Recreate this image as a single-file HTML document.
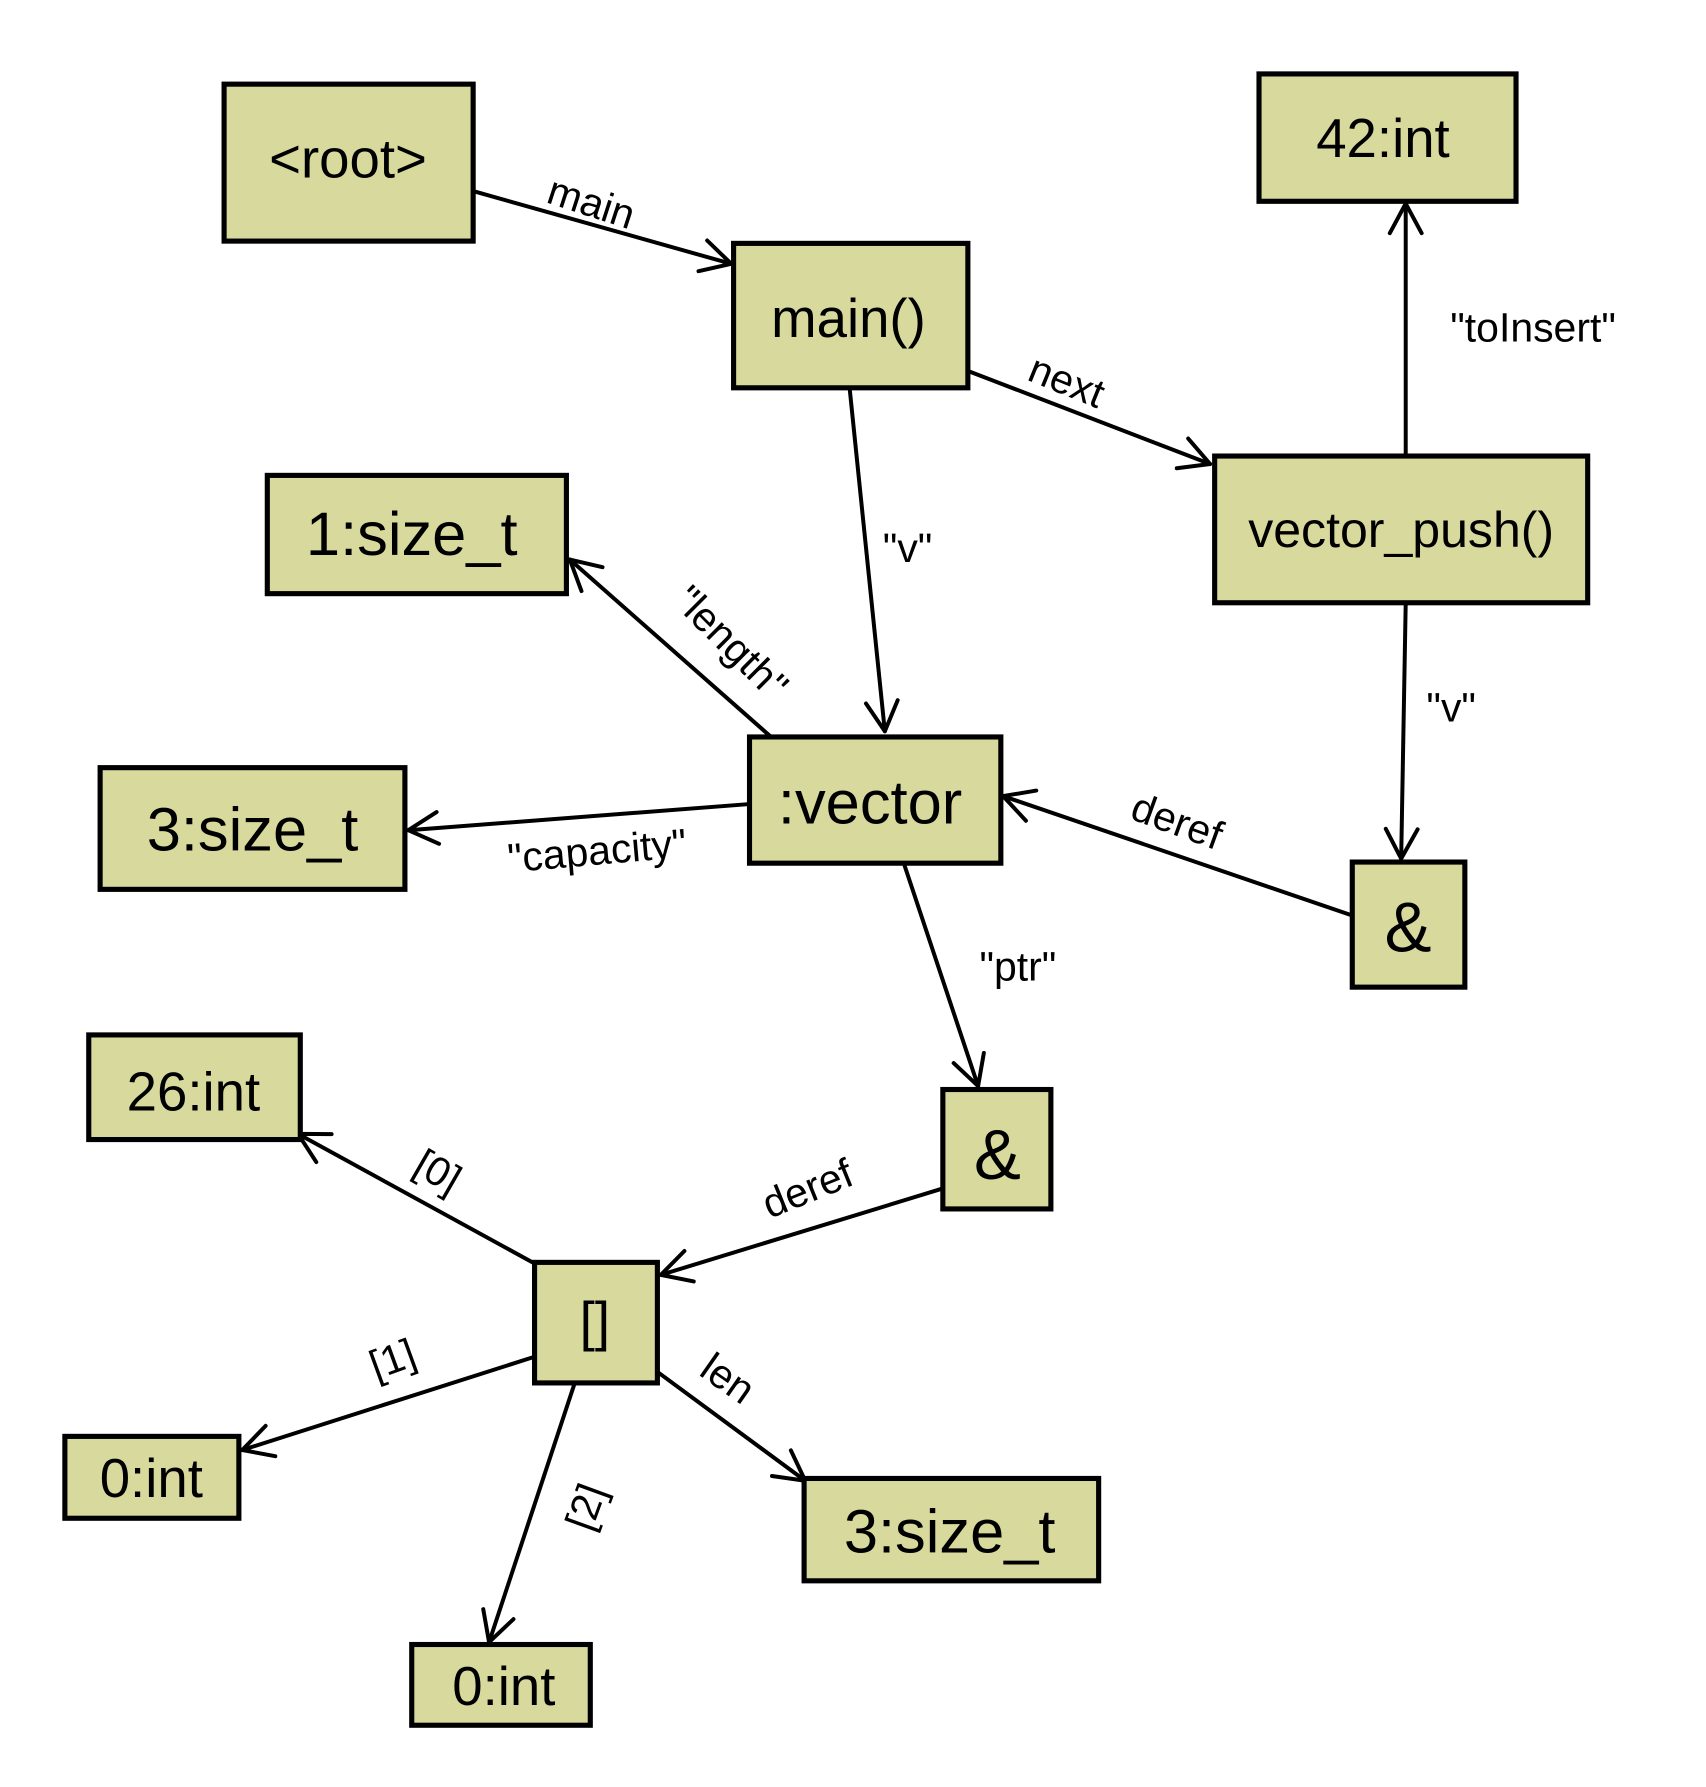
<!DOCTYPE html>
<html><head><meta charset="utf-8"><style>
html,body{margin:0;padding:0;background:#fff;}
svg{display:block;}
text{font-family:"Liberation Sans",sans-serif;fill:#000;}
.n{font-size:48px;text-anchor:middle;dominant-baseline:central;}
.l{font-size:36px;text-anchor:middle;dominant-baseline:central;}
rect{fill:#d8d99c;stroke:#000;stroke-width:4.5;}
line,polyline{stroke:#000;stroke-width:3.5;fill:none;stroke-linecap:round;stroke-linejoin:round;}
</style></head><body>
<svg width="1706" height="1787" viewBox="0 0 1500 1571.3" xmlns="http://www.w3.org/2000/svg">
<defs><marker id="a" markerWidth="34" markerHeight="34" refX="30" refY="17" orient="auto" markerUnits="userSpaceOnUse"><polyline points="4,3 30,17 4,31" style="stroke:#000;stroke-width:3.5;fill:none"/></marker></defs>
<line x1="416" y1="168" x2="643" y2="232" marker-end="url(#a)"/>
<line x1="848" y1="325" x2="1064" y2="408" marker-end="url(#a)"/>
<line x1="747" y1="341" x2="778" y2="643" marker-end="url(#a)"/>
<line x1="1236" y1="400" x2="1236" y2="179" marker-end="url(#a)"/>
<line x1="1236" y1="530" x2="1232" y2="755" marker-end="url(#a)"/>
<line x1="1189" y1="805" x2="882" y2="700" marker-end="url(#a)"/>
<line x1="678" y1="648" x2="501" y2="492" marker-end="url(#a)"/>
<line x1="659" y1="707" x2="359" y2="730" marker-end="url(#a)"/>
<line x1="795" y1="760" x2="860" y2="955" marker-end="url(#a)"/>
<line x1="829" y1="1045" x2="581" y2="1121" marker-end="url(#a)"/>
<line x1="470" y1="1111" x2="262" y2="997" marker-end="url(#a)"/>
<line x1="470" y1="1193" x2="213" y2="1275" marker-end="url(#a)"/>
<line x1="505" y1="1217" x2="430" y2="1444" marker-end="url(#a)"/>
<line x1="579" y1="1207" x2="708" y2="1302" marker-end="url(#a)"/>
<rect x="197" y="74" width="219" height="138"/><text class="n" x="306" y="140">&lt;root&gt;</text>
<rect x="645" y="214" width="206" height="127"/><text class="n" x="746" y="280">main()</text>
<rect x="1107" y="65" width="226" height="112"/><text class="n" x="1216" y="122">42:int</text>
<rect x="1068" y="401" width="328" height="129"/><text class="n" x="1232" y="466" style="font-size:44px">vector_push()</text>
<rect x="235" y="418" width="263" height="104"/><text class="n" x="362" y="470" style="font-size:54px">1:size_t</text>
<rect x="659" y="648" width="221" height="111"/><text class="n" x="765" y="706" style="font-size:54px">:vector</text>
<rect x="88" y="675" width="268" height="107"/><text class="n" x="222" y="730" style="font-size:54px">3:size_t</text>
<rect x="1189" y="758" width="99" height="110"/><text class="n" x="1238" y="815" style="font-size:62px">&amp;</text>
<rect x="829" y="958" width="95" height="105"/><text class="n" x="877" y="1015" style="font-size:62px">&amp;</text>
<rect x="78" y="910" width="186" height="92"/><text class="n" x="170" y="960">26:int</text>
<rect x="470" y="1110" width="108" height="106"/><text class="n" x="523" y="1162">[]</text>
<rect x="57" y="1263" width="153" height="72"/><text class="n" x="133" y="1300">0:int</text>
<rect x="707" y="1300" width="259" height="90"/><text class="n" x="835" y="1347" style="font-size:54px">3:size_t</text>
<rect x="362" y="1446" width="157" height="71"/><text class="n" x="443" y="1483">0:int</text>
<text class="l" transform="translate(520,178) rotate(18)">main</text>
<text class="l" transform="translate(938,335) rotate(22)">next</text>
<text class="l" x="798" y="482">"v"</text>
<text class="l" x="1348" y="288">"toInsert"</text>
<text class="l" x="1276" y="622">"v"</text>
<text class="l" transform="translate(1035,722) rotate(20)">deref</text>
<text class="l" transform="translate(643,565) rotate(45)">"length"</text>
<text class="l" transform="translate(525,748) rotate(-5)">"capacity"</text>
<text class="l" x="895" y="850">"ptr"</text>
<text class="l" transform="translate(710,1045) rotate(-22)">deref</text>
<text class="l" transform="translate(385,1030) rotate(30)">[0]</text>
<text class="l" transform="translate(345,1195) rotate(-20)">[1]</text>
<text class="l" transform="translate(515,1325) rotate(-70)">[2]</text>
<text class="l" transform="translate(640,1212) rotate(35)">len</text>
</svg>
</body></html>
